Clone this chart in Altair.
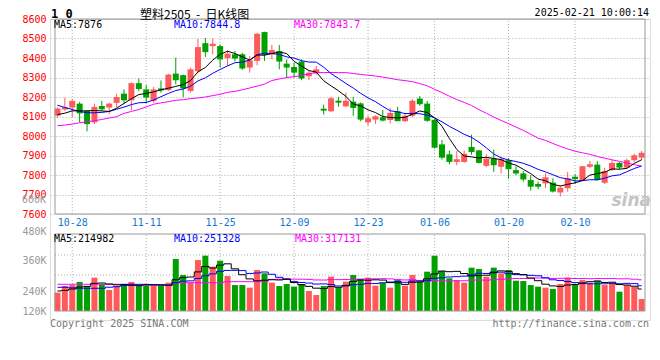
import altair as alt
import pandas as pd

# ---------------- data ----------------
opens = [8104, 8136, 8146, 8166, 8129, 8070, 8154, 8146, 8170, 8217,
         8183, 8271, 8239, 8180, 8244, 8235, 8320, 8312, 8231, 8332,
         8476, 8461, 8461, 8399, 8419, 8419, 8351, 8385, 8533, 8419,
         8436, 8371, 8354, 8382, 8307, 8322, 8140, 8127, 8181, 8152,
         8176, 8167, 8070, 8084, 8096, 8082, 8127, 8076, 8104, 8192,
         8166, 8083, 7957, 7906, 7867, 7867, 7944, 7926, 7847, 7884,
         7842, 7876, 7825, 7808, 7774, 7754, 7757, 7761, 7710, 7732,
         7791, 7771, 7842, 7853, 7760, 7825, 7862, 7838, 7876, 7889]
highs = [8146, 8197, 8188, 8175, 8132, 8166, 8180, 8171, 8217, 8239,
         8276, 8295, 8261, 8251, 8285, 8319, 8402, 8315, 8350, 8498,
         8502, 8501, 8470, 8439, 8436, 8427, 8410, 8529, 8535, 8467,
         8467, 8393, 8376, 8393, 8334, 8359, 8161, 8201, 8201, 8222,
         8201, 8172, 8104, 8106, 8133, 8144, 8150, 8113, 8188, 8205,
         8180, 8086, 7980, 7926, 7923, 7926, 8007, 7930, 7906, 7930,
         7892, 7887, 7845, 7820, 7799, 7766, 7808, 7783, 7744, 7816,
         7804, 7847, 7872, 7872, 7837, 7876, 7867, 7884, 7909, 7923]
lows = [8093, 8129, 8097, 8070, 8024, 8061, 8129, 8112, 8146, 8166,
        8132, 8230, 8166, 8171, 8222, 8230, 8264, 8200, 8222, 8325,
        8405, 8419, 8351, 8360, 8382, 8339, 8325, 8363, 8385, 8393,
        8342, 8297, 8300, 8286, 8286, 8314, 8110, 8123, 8150, 8150,
        8104, 8076, 8053, 8062, 8074, 8065, 8076, 8072, 8096, 8155,
        8073, 7935, 7879, 7855, 7850, 7862, 7904, 7859, 7840, 7816,
        7808, 7780, 7799, 7766, 7720, 7727, 7734, 7710, 7690, 7715,
        7754, 7769, 7835, 7771, 7754, 7821, 7828, 7833, 7867, 7876]
closes = [8141, 8148, 8180, 8116, 8061, 8149, 8137, 8166, 8200, 8183,
          8271, 8241, 8197, 8239, 8234, 8315, 8286, 8244, 8342, 8456,
          8430, 8473, 8393, 8422, 8397, 8346, 8388, 8524, 8416, 8441,
          8382, 8351, 8325, 8295, 8325, 8342, 8130, 8193, 8171, 8181,
          8144, 8084, 8091, 8101, 8079, 8118, 8076, 8104, 8181, 8163,
          8078, 7940, 7889, 7867, 7881, 7909, 7918, 7862, 7884, 7850,
          7881, 7830, 7808, 7777, 7740, 7740, 7788, 7715, 7735, 7783,
          7779, 7845, 7855, 7774, 7820, 7862, 7838, 7876, 7901, 7914]
volumes = [175000, 248000, 259000, 293000, 248000, 340000, 267000, 204000, 248000, 267000,
           293000, 248000, 252000, 252000, 252000, 285000, 545000, 369000, 285000, 534000,
           582000, 461000, 527000, 358000, 259000, 259000, 230000, 424000, 388000, 285000,
           248000, 270000, 241000, 270000, 193000, 149000, 248000, 351000, 230000, 296000,
           369000, 325000, 340000, 252000, 281000, 230000, 314000, 252000, 369000, 296000,
           406000, 582000, 413000, 333000, 314000, 285000, 450000, 435000, 351000, 450000,
           388000, 424000, 307000, 303000, 259000, 241000, 230000, 215000, 270000, 340000,
           270000, 314000, 285000, 307000, 259000, 285000, 186000, 259000, 241000, 105000]

# moving-average values visible before a full window of candles exists
ma5_head = [8110, 8117, 8129, 8129]
ma10_head = [8158, 8146, 8136, 8126, 8119, 8119, 8121, 8126, 8137]
ma30_head = [8053, 8056, 8061, 8068, 8073, 8078, 8085, 8092, 8099, 8116,
             8126, 8136, 8149, 8163, 8170, 8176, 8183, 8186, 8192, 8195,
             8200, 8207, 8214, 8224, 8229, 8237, 8246, 8256, 8266]
vma5_head = [193000, 200000, 215000, 237000]
vma10_head = [234000, 234000, 228000, 223000, 223000, 223000, 223000, 235000, 241000]
vma30_head = [267000, 267000, 267000, 267000, 267000, 267000, 267000, 267000, 267000, 267000,
              267000, 258000, 258000, 258000, 258000, 258000, 285000, 285000, 285000, 285000,
              285000, 285000, 285000, 296000, 296000, 296000, 296000, 296000, 296000]

date_ticks = [2, 12, 22, 32, 42, 51, 61, 70]
date_labels = ["10-28", "11-11", "11-25", "12-09", "12-23", "01-06", "01-20", "02-10"]
price_ticks = [7600, 7700, 7800, 7900, 8000, 8100, 8200, 8300, 8400, 8500, 8600]
vol_label_values = [-26600, 157000, 496000, 820400]
vol_labels = ["120K", "240K", "360K", "480K"]
vol_grid_values = [369400, 589400]

header_left = "1 0"
title_text = "塑料2505\u00a0\u00a0-\u00a0\u00a0日K线图"
stamp_text = "2025-02-21 10:00:14"
price_ma_texts = ["MA5:7876", "MA10:7844.8", "MA30:7843.7"]
vol_ma_texts = ["MA5:214982", "MA10:251328", "MA30:317131"]
stray_label = "600K"
footer_left = "Copyright 2025 SINA.COM"
footer_right = "http://finance.sina.com.cn"
watermark = "sina"

# ---------------- layout / style ----------------
W, H = 600, 301
X_DOM = [-0.332, 79.455]
P_DOM = [7600, 8600]
P_RANGE = [195, 0]
V_DOM = [-26600, 820400]
V_RANGE = [292, 215]
RED, GREEN = "#ff5a5a", "#00a000"
MA_COLORS = ["#000000", "#0000ff", "#ff00ff"]
GRID = "#b0b0b0"
FRAME = "#999999"
MONO = "DejaVu Sans Mono"

n = len(closes)


def pad(head):
    return head + [None] * (n - len(head))


df = pd.DataFrame({
    "i": list(range(n)), "o": opens, "h": highs, "l": lows, "c": closes, "v": volumes,
    "m5": pad(ma5_head), "m10": pad(ma10_head), "m30": pad(ma30_head),
    "vm5": pad(vma5_head), "vm10": pad(vma10_head), "vm30": pad(vma30_head),
})
grid_df = pd.DataFrame({"i": date_ticks})
one = pd.DataFrame({"k": [0]})

xs = alt.Scale(domain=X_DOM, nice=False, zero=False)
ps = alt.Scale(domain=P_DOM, range=P_RANGE, nice=False, zero=False)
vs = alt.Scale(domain=V_DOM, range=V_RANGE, nice=False, zero=False)

up = alt.condition("datum.c >= datum.o", alt.value(RED), alt.value(GREEN))


def chain(values, labels):
    expr = "''"
    for v, lab in reversed(list(zip(values, labels))):
        expr = f"datum.value == {v} ? '{lab}' : {expr}"
    return expr


x_axis = alt.Axis(values=date_ticks, labelExpr=chain(date_ticks, date_labels), orient="bottom",
                  offset=P_RANGE[0] - H, grid=False, ticks=False, domain=False, labelColor="#1478d0",
                  labelFont=MONO, labelFontSize=10, labelPadding=3, labelFlush=False,
                  labelOverlap=False, title=None)
p_axis = alt.Axis(values=price_ticks, orient="left", grid=True, gridColor=GRID, gridDash=[1, 2],
                  ticks=False, domain=False, labelColor="#ff0000", labelFont=MONO, labelFontSize=10,
                  labelPadding=4, labelOverlap=False, format="d", title=None)
v_axis = alt.Axis(values=vol_label_values, labelExpr=chain(vol_label_values, vol_labels), orient="left",
                  grid=False, ticks=False, domain=False, labelColor="#999999", labelFont=MONO,
                  labelFontSize=10, labelPadding=4, labelOverlap=False, title=None,
                  labelBaseline={"condition": {"test": f"datum.value == {V_DOM[0]}", "value": "middle"},
                                 "value": "alphabetic"})


def xq():
    return alt.X("i:Q", scale=xs, axis=x_axis)


def x_edges():
    return dict(x=alt.XDatum(X_DOM[0], type="quantitative", scale=xs, axis=x_axis),
                x2=alt.X2Datum(X_DOM[1]))


def frame(dom, scale, axis):
    return alt.Chart(one).mark_rect(fillOpacity=0, stroke=FRAME, strokeWidth=1).encode(
        y=alt.YDatum(dom[1], type="quantitative", scale=scale, axis=axis), y2=alt.Y2Datum(dom[0]),
        **x_edges())


def vgrid(dom, scale, axis):
    return alt.Chart(grid_df).mark_rule(color=GRID, strokeDash=[1, 2], strokeWidth=1).encode(
        x=xq(), y=alt.YDatum(dom[0], type="quantitative", scale=scale, axis=axis), y2=alt.Y2Datum(dom[1]))


def ma_line(field, k, head_col, color, scale, axis, interp):
    return alt.Chart(df).transform_window(
        mw=f"mean({field})", cnt="count()", frame=[-(k - 1), 0], sort=[alt.SortField("i")]
    ).transform_calculate(
        m=f"datum.cnt < {k} ? datum.{head_col} : datum.mw"
    ).transform_filter("isValid(datum.m)").mark_line(
        color=color, strokeWidth=1, interpolate=interp
    ).encode(x=xq(), y=alt.Y("m:Q", scale=scale, axis=axis), order="i:Q")


# ---------------- price panel ----------------
wicks = alt.Chart(df).mark_rule(strokeWidth=1).encode(
    x=xq(), y=alt.Y("l:Q", scale=ps, axis=p_axis), y2="h:Q", color=up)
bodies = alt.Chart(df).mark_bar(size=6).encode(
    x=xq(), y=alt.Y("o:Q", scale=ps, axis=p_axis), y2="c:Q", color=up)
price = alt.layer(
    vgrid(P_DOM, ps, p_axis), wicks, bodies,
    ma_line("c", 30, "m30", MA_COLORS[2], ps, p_axis, "linear"),
    ma_line("c", 10, "m10", MA_COLORS[1], ps, p_axis, "linear"),
    ma_line("c", 5, "m5", MA_COLORS[0], ps, p_axis, "linear"),
    frame(P_DOM, ps, p_axis),
)

# ---------------- volume panel ----------------
hgrid = alt.Chart(pd.DataFrame({"g": vol_grid_values})).mark_rule(
    color=GRID, strokeDash=[1, 2], strokeWidth=1).encode(
    y=alt.Y("g:Q", scale=vs, axis=v_axis), **x_edges())
vbars = alt.Chart(df).mark_bar(size=6).encode(
    x=xq(), y=alt.Y("v:Q", scale=vs, axis=v_axis), y2=alt.Y2Datum(V_DOM[0]), color=up)
volume = alt.layer(
    vgrid(V_DOM, vs, v_axis), hgrid, vbars,
    ma_line("v", 30, "vm30", MA_COLORS[2], vs, v_axis, "step"),
    ma_line("v", 10, "vm10", MA_COLORS[1], vs, v_axis, "step"),
    ma_line("v", 5, "vm5", MA_COLORS[0], vs, v_axis, "step"),
    frame(V_DOM, vs, v_axis),
)


# ---------------- annotation texts ----------------
def label(text, x, y, align="left", baseline="middle", size=10, color="#000000", font=MONO,
          weight="normal", style="normal"):
    return alt.Chart(one).mark_text(align=align, baseline=baseline, fontSize=size, font=font,
                                    fontWeight=weight, fontStyle=style, color=color).encode(
        x=alt.value(x), y=alt.value(y), text=alt.value(text))


texts = [
    label(header_left, 1, -5, size=12, weight="bold"),
    label(title_text, 90, -4.5, size=12, font="Noto Sans CJK SC"),
    label(stamp_text, 599, -6, align="right"),
    label(stray_label, -4, 181, align="right", color="#999999"),
    label(watermark, 601, 187, align="right", baseline="alphabetic", size=17, color="#c4c4c4",
          font="DejaVu Sans", weight="bold", style="italic"),
    label(footer_left, 0, 305, color="#777777"),
    label(footer_right, 599, 305, align="right", color="#777777"),
]
for t, x0, col in zip(price_ma_texts, [4, 124, 244], MA_COLORS):
    texts.append(label(t, x0, 5.5, color=col))
for t, x0, col in zip(vol_ma_texts, [4, 124, 245], MA_COLORS):
    texts.append(label(t, x0, 220, color=col))

chart = alt.layer(price, volume, *texts).resolve_scale(y="independent").properties(
    width=W, height=H,
    autosize=alt.AutoSizeParams(type="none"),
    padding={"left": 42, "top": 11, "right": 2, "bottom": 32},
).configure_view(stroke=None).configure(background="#ffffff")

chart.save("out.html", embed_options={"renderer": "svg", "actions": False})
